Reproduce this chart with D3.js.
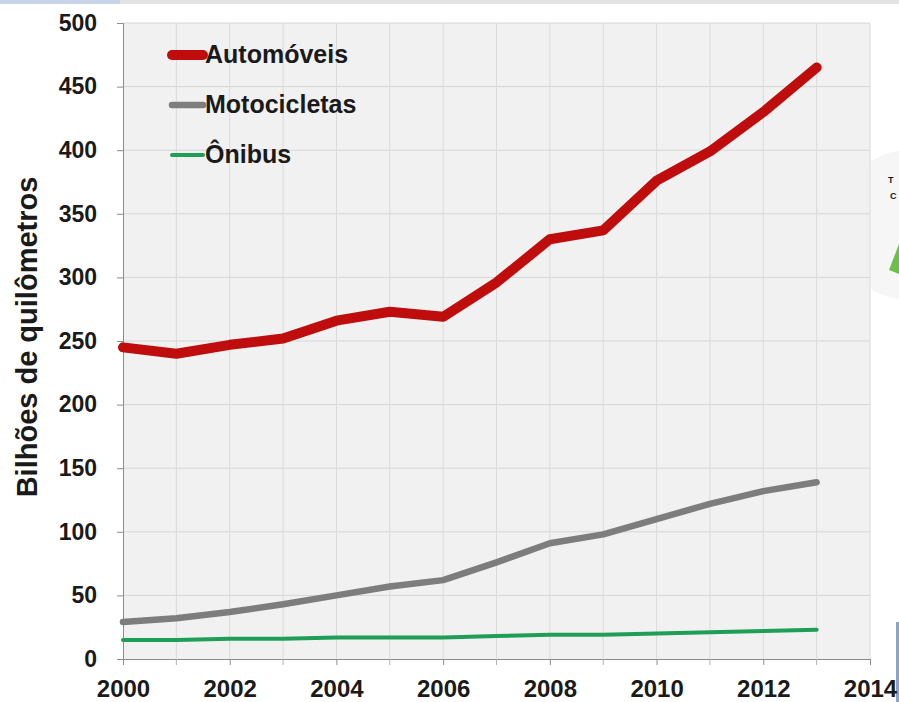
<!DOCTYPE html>
<html>
<head>
<meta charset="utf-8">
<script src="https://cdn.jsdelivr.net/npm/d3@7"></script>
<style>
  html, body { margin: 0; padding: 0; background: #ffffff; }
  svg { display: block; }
  text { font-family: "Liberation Sans", Arial, sans-serif; font-weight: bold; fill: #1a1a1a; }
</style>
</head>
<body>
<script>
// Distância percorrida por tipo de veículo (bilhões de km)
const years = [2000, 2001, 2002, 2003, 2004, 2005, 2006, 2007, 2008, 2009, 2010, 2011, 2012, 2013];
const automoveis   = [245, 240, 247, 252, 266, 273, 269, 296, 330, 337, 376, 399, 430, 465];
const motocicletas = [29, 32, 37, 43, 50, 57, 62, 76, 91, 98, 110, 122, 132, 139];
const onibus       = [15, 15, 16, 16, 17, 17, 17, 18, 19, 19, 20, 21, 22, 23];
const seriesNames  = ["Automóveis", "Motocicletas", "Ônibus"];
const yTicks = [0, 50, 100, 150, 200, 250, 300, 350, 400, 450, 500];
const xTicks = [2000, 2002, 2004, 2006, 2008, 2010, 2012, 2014];
const yTitle = "Bilhões de quilômetros";

const W = 899, H = 702;
const margin = { left: 123, right: 29, top: 23, bottom: 43 };
const FONT = "Liberation Sans, Arial, sans-serif";

const svg = d3.select("body").append("svg").attr("width", W).attr("height", H);

// faint page decoration along the top and right edge
svg.append("rect").attr("x", 0).attr("y", 0).attr("width", W).attr("height", 4).attr("fill", "#e3e3e3");
svg.append("rect").attr("x", 0).attr("y", 0).attr("width", 120).attr("height", 4).attr("fill", "#c9d3e6");
svg.append("circle").attr("cx", 910).attr("cy", 225).attr("r", 75).attr("fill", "#f6f6f6");
svg.append("text").attr("x", 888).attr("y", 183).attr("font-size", 9).text("T");
svg.append("text").attr("x", 890).attr("y", 199).attr("font-size", 9).text("C");
svg.append("path").attr("d", "M889,270 L899,244 L899,274 Z").attr("fill", "#6cc04a");
svg.append("rect").attr("x", 896).attr("y", 622).attr("width", 3).attr("height", 80).attr("fill", "#8ea3c6");

const x = d3.scaleLinear().domain([2000, 2014]).range([margin.left, W - margin.right]);
const y = d3.scaleLinear().domain([0, 500]).range([H - margin.bottom, margin.top]);

// plot area
svg.append("rect")
  .attr("x", x(2000)).attr("y", y(500))
  .attr("width", x(2014) - x(2000)).attr("height", y(0) - y(500))
  .attr("fill", "#f1f1f1");

// gridlines
const g = svg.append("g");
g.selectAll(".hg").data(yTicks.filter(d => d > 0)).join("line")
  .attr("x1", x(2000)).attr("x2", x(2014))
  .attr("y1", d => y(d)).attr("y2", d => y(d))
  .attr("stroke", "#d6d6d6").attr("stroke-width", 1);
g.selectAll(".vg").data(d3.range(2001, 2015)).join("line")
  .attr("x1", d => x(d)).attr("x2", d => x(d))
  .attr("y1", y(500)).attr("y2", y(0))
  .attr("stroke", "#dadada").attr("stroke-width", 1);

// axes
const yAxis = svg.append("g").attr("transform", `translate(${x(2000)},0)`)
  .call(d3.axisLeft(y).tickValues(yTicks).tickSize(6).tickPadding(20));
yAxis.select(".domain").attr("stroke", "#8c8c8c");
yAxis.selectAll(".tick line").attr("stroke", "#8c8c8c");
yAxis.selectAll(".tick text").attr("font-size", 23).attr("font-family", FONT)
  .attr("font-weight", "bold").attr("fill", "#1a1a1a");

const xAxis = svg.append("g").attr("transform", `translate(0,${y(0)})`)
  .call(d3.axisBottom(x).tickValues(xTicks).tickFormat(d3.format("d")).tickSize(6).tickPadding(15));
xAxis.select(".domain").attr("stroke", "#8c8c8c");
xAxis.selectAll(".tick line").attr("stroke", "#8c8c8c");
xAxis.selectAll(".tick text").attr("font-size", 24).attr("font-family", FONT)
  .attr("font-weight", "bold").attr("fill", "#1a1a1a");
// minor ticks on odd years
svg.append("g").selectAll("line").data(d3.range(2001, 2014, 2)).join("line")
  .attr("x1", d => x(d)).attr("x2", d => x(d))
  .attr("y1", y(0)).attr("y2", y(0) + 6)
  .attr("stroke", "#b0b0b0");

// y axis title
svg.append("text")
  .attr("transform", `translate(37,${(y(0) + y(500)) / 2 - 4}) rotate(-90)`)
  .attr("text-anchor", "middle").attr("font-size", 29).text(yTitle);

// series
const series = [
  { name: seriesNames[0], values: automoveis,   color: "#bf0d0d", width: 10 },
  { name: seriesNames[1], values: motocicletas, color: "#7d7d7d", width: 6.5 },
  { name: seriesNames[2], values: onibus,       color: "#1f9e57", width: 4 }
];

const line = d3.line().x((d, i) => x(years[i])).y(d => y(d));

series.forEach(s => {
  svg.append("path").datum(s.values)
    .attr("d", line)
    .attr("fill", "none")
    .attr("stroke", s.color)
    .attr("stroke-width", s.width)
    .attr("stroke-linejoin", "round")
    .attr("stroke-linecap", "round");
});

// legend
const legendY = [55, 105, 155];
series.forEach((s, i) => {
  svg.append("line")
    .attr("x1", 172).attr("x2", 203)
    .attr("y1", legendY[i]).attr("y2", legendY[i])
    .attr("stroke", s.color).attr("stroke-width", s.width)
    .attr("stroke-linecap", "round");
  svg.append("text")
    .attr("x", 205).attr("y", legendY[i] + 8)
    .attr("font-size", 25).text(s.name);
});
</script>
</body>
</html>
